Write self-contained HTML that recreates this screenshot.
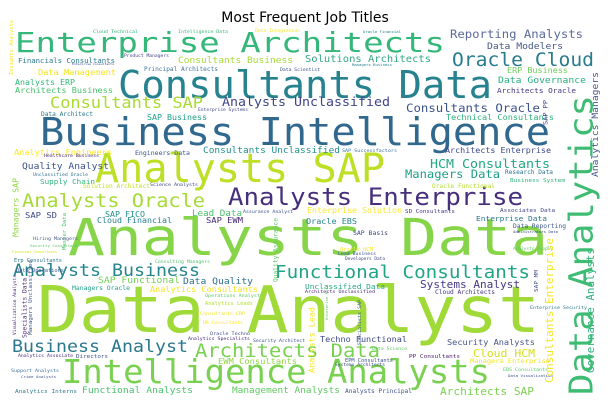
<!DOCTYPE html>
<html><head><meta charset="utf-8"><style>
html,body{margin:0;padding:0;background:#fff;}
svg{display:block;}
text{font-family:"DejaVu Sans Mono","Liberation Mono",monospace;}
</style></head><body>
<svg id="wc" width="610" height="408" viewBox="0 0 610 408" xmlns="http://www.w3.org/2000/svg">
<rect width="610" height="408" fill="#fff"/>
<text x="305" y="22" text-anchor="middle" font-size="14" style="font-family:'DejaVu Sans','Liberation Sans',sans-serif" fill="#000">Most Frequent Job Titles</text>
</svg>
<script>
// [text, x-left (or baseline-x for vertical), baseline-y (or bottom-y for vertical), length, color, vertical, fontSizeOverride]
const words = [
["Data Analyst",37,332,503,"#a0da39",0,64],
["Analysts Data",68,255,480,"#86d549",0,51],
["Business Intelligence",40,145,510,"#31688e",0,38],
["Consultants Data",118,98,374,"#26828e",0,38],
["Enterprise Architects",15,52,430,"#35b779",0,28],
["Intelligence Analysts",62,383,428,"#7ad151",0,33],
["Analysts SAP",95,182,290,"#bddf26",0,40],
["Analysts Enterprise",228,205,295,"#472f7d",0],
["Analysts Oracle",22,207,183,"#a5db36",0],
["Oracle Cloud",452,66,142,"#287c8e",0],
["Functional Consultants",275,278,255,"#20a486",0],
["Analysts Business",13,276,187,"#25858e",0],
["Business Analyst",12,352,176,"#2a788e",0],
["Architects Data",195,357,185,"#7ad151",0],
["Consultants SAP",50,108,153,"#a8db34",0],
["Reporting Analysts",450,38,133,"#5b6b9a",0],
["Data Modelers",487,49,76,"#46578a",0],
["Solutions Architects",305,62,126,"#35a883",0],
["Consultants Business",178,63,115,"#a5db36",0],
["Analysts Unclassified",222,106,168,"#414487",0],
["Consultants Oracle",406,112,134,"#3b528b",0],
["Technical Consultants",446,120,108,"#2db27d",0],
["Architects Oracle",497,93,79,"#443983",0],
["Data Governance",498,83,88,"#29af7f",0],
["ERP Business",507,73,61,"#6ece58",0],
["HCM Consultants",430,168,120,"#22a884",0],
["Managers Data",405,178,95,"#1f9e89",0],
["Architects Enterprise",445,153,106,"#3e4989",0],
["SAP Successfactors",342,152,55,"#3e74a0",0],
["Consultants Unclassified",203,153,137,"#21918c",0],
["Analytics Engineers",14,155,98,"#fde725",0],
["Quality Analyst",22,169,87,"#3b528b",0],
["Supply Chain",40,184,55,"#2db27d",0],
["Data Management",38,75,78,"#f2e51d",0],
["Analysts ERP",15,85,60,"#35b779",0],
["Architects Business",15,93,98,"#4ac16d",0],
["Financials Consultants",18,63,97,"#2a788e",0],
["Cloud Technical",93,33,45,"#2fb47c",0],
["Principal Architects",144,71,74,"#3e74a0",0],
["SAP Business",147,120,60,"#1fa088",0],
["Data Architect",41,116,52,"#2a788e",0],
["Engineers Data",135,155,55,"#39568c",0],
["SAP SD",25,218,32,"#3e4989",0],
["SAP FICO",105,217,40,"#21918c",0],
["Cloud Financial",97,223,75,"#277f8e",0],
["Lead Data",192,216,50,"#4ac16d",0],
["SAP EWM",206,223,37,"#482878",0],
["Solution Architect",83,188,67,"#bddf26",0],
["Data Quality",183,284,70,"#2c728e",0],
["SAP Functional",98,283,82,"#73d056",0],
["Analytics Consultants",150,292,108,"#f6e620",0],
["Unclassified Data",305,289,80,"#22a884",0],
["Systems Analyst",420,288,100,"#443983",0],
["Cloud Architects",435,294,60,"#46337e",0],
["Architects Unclassified",305,293,70,"#482475",0],
["Managers Oracle",72,290,58,"#1fa088",0],
["Operations Analyst",205,297,55,"#5ec962",0],
["Security Analysts",447,345,88,"#46578a",0],
["Techno Functional",320,342,87,"#3e4989",0],
["Cloud HCM",473,357,62,"#d2e21b",0],
["Data Science",372,350,35,"#5ec962",0],
["PP Consultants",409,358,51,"#48186a",0],
["Managers Enterprise",470,363,80,"#f2e51d",0],
["Architects SAP",440,395,94,"#7ad151",0],
["Analysts Principal",345,393,67,"#3b528b",0],
["Functional Analysts",82,393,111,"#4ac16d",0],
["Management Analysts",232,393,108,"#5ec962",0],
["Analytics Interns",15,393,62,"#2a788e",0],
["EWM Consultants",218,364,79,"#90d743",0],
["Directors",76,358,32,"#3b528b",0],
["Analytics Associate",18,357,55,"#482878",0],
["Enterprise Data",476,221,71,"#2a788e",0],
["Data Reporting",513,228,53,"#39568c",0],
["Oracle EBS",306,224,51,"#25858e",0],
["Enterprise Solution",307,213,95,"#fde725",0],
["SD Consultants",405,213,50,"#46337e",0],
["Associates Data",500,212,55,"#3e4989",0],
["Research Data",505,174,48,"#2c728e",0],
["Business System",510,182,55,"#2db27d",0],
["Oracle Functional",432,188,63,"#b5de2b",0],
["Intelligence Data",178,33,50,"#35b779",0],
["Oracle Financial",363,33,38,"#277f8e",0],
["Product Managers",124,57,45,"#414487",0],
["Enterprise Consultants",72,65,42,"#3e4989",0],
["Data Scientist",280,71,40,"#3b528b",0],
["Managers Business",352,66,40,"#26828e",0],
["Data Integration",255,32,45,"#f6e620",0],
["Enterprise Systems",198,111,50,"#3e4989",0],
["Healthcare Business",44,157,55,"#482878",0],
["Unclassified Oracle",33,176,55,"#2c728e",0],
["Science Analysts",150,186,48,"#3e4989",0],
["Assurance Analyst",243,213,50,"#3b528b",0],
["Hiring Managers",33,240,45,"#46578a",0],
["Security Consultants",30,247,50,"#5ec962",0],
["Financial Consultants",12,253,45,"#d8e219",0],
["Erp Consultants",14,262,48,"#2a788e",0],
["Data Operations",16,272,48,"#39568c",0],
["Consulting Managers",155,263,55,"#4ac16d",0],
["Analytics Leads",205,305,48,"#b5de2b",0],
["Consultants ERP",200,315,45,"#f2e51d",0],
["HR Consultants",203,324,40,"#fde725",0],
["Oracle Techno",210,335,40,"#3e4989",0],
["Analytics Specialists",188,340,62,"#482878",0],
["Security Architect",253,342,52,"#3b528b",0],
["Support Analysts",11,372,48,"#3e74a0",0],
["Crime Analysts",21,378,35,"#46578a",0],
["EPM Consultants",345,362,48,"#3b528b",0],
["Systems Architects",335,366,50,"#3e4989",0],
["EBS Consultants",503,371,45,"#5ec962",0],
["Data Visualization",508,377,45,"#3b528b",0],
["SAP Basis",353,235,35,"#3e4989",0],
["Oracle HCM",340,251,33,"#fde725",0],
["Lead Business",338,255,38,"#3b528b",0],
["Developers Data",345,260,40,"#3e4989",0],
["Enterprise Security",530,309,57,"#2a788e",0],
["Administrators Data",513,233,45,"#3e4989",0],
["Analysts Supply",513,250,40,"#5ec962",0],
["Consultants Enterprise",555,383,145,"#f6e620",1],
["Governance Analysts",596,373,125,"#2db27d",1],
["Analytics Managers",600,177,105,"#46578a",1],
["Data Analytics",600,395,300,"#3fbc73",1],
["Quality Assurance",279,282,64,"#5ec962",1],
["Analysts Lead",316,373,66,"#f6e620",1],
["Specialists Data",28,338,60,"#482878",1],
["Master Data",67,250,37,"#4ac16d",1],
["Managers SAP",20,237,59,"#90d743",1],
["SAP PP",549,125,25,"#3e4989",1],
["SAP MM",539,292,22,"#3e4989",1],
["Enterprise Risk",329,320,35,"#5ec962",1],
["Specialists SAP",362,345,45,"#3b528b",1],
["Managers Unclassified",33,335,75,"#46578a",1],
["Insights Analysts",14,75,55,"#f6e620",1],
["Visualization Analysts",17,335,60,"#482878",1]
];
const svg = document.getElementById('wc');
const NS = 'http://www.w3.org/2000/svg';
words.forEach((w, i) => {
  const txt = w[0], x = w[1], y = w[2], len = w[3], col = w[4], vert = w[5];
  const fs = w[6] ? w[6] : len / (txt.length * 0.602) * 0.93;
  const t = document.createElementNS(NS, 'text');
  
  
  t.setAttribute('font-size', fs.toFixed(2));
  t.setAttribute('fill', col);
  t.setAttribute('textLength', len);
  t.setAttribute('lengthAdjust', 'spacingAndGlyphs');
  if (vert) {
    const bx = x - fs * 0.22;
    t.setAttribute('x', bx);
    t.setAttribute('y', y);
    t.setAttribute('transform', 'rotate(-90 ' + bx + ' ' + y + ')');
  } else {
    t.setAttribute('x', x);
    t.setAttribute('y', y);
  }
  t.textContent = txt;
  svg.appendChild(t);
});
</script>
</body></html>
